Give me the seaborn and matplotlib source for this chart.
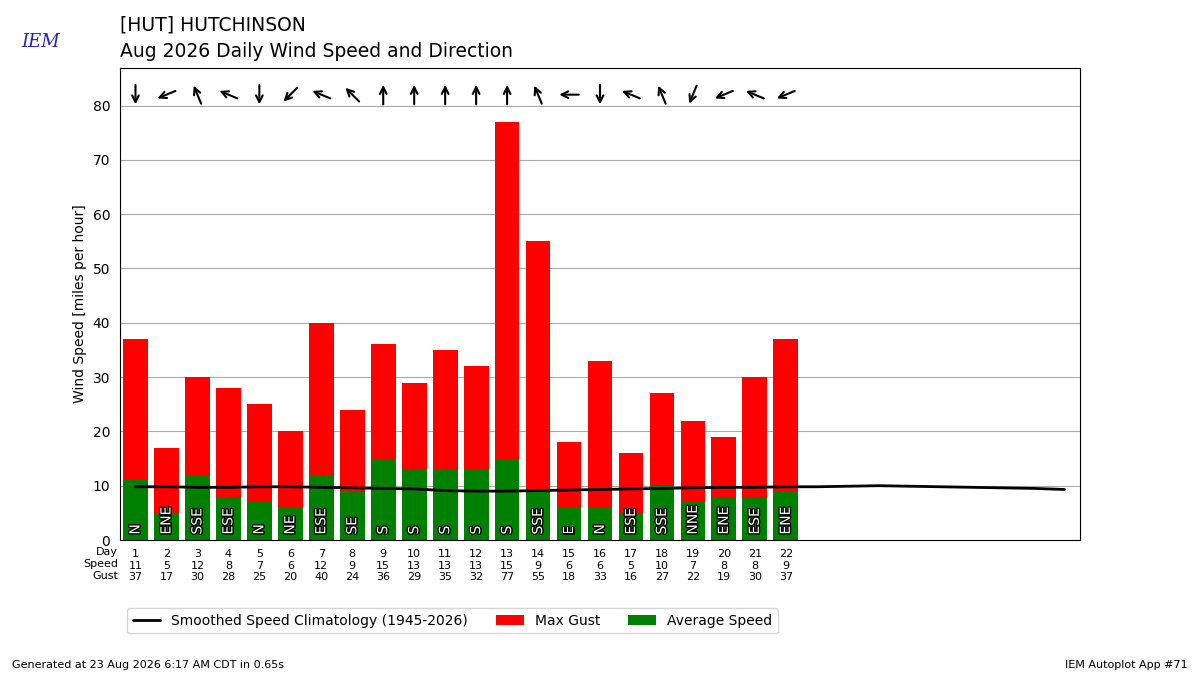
import numpy as np
import matplotlib
matplotlib.use("Agg")
import matplotlib.pyplot as plt
import matplotlib.patheffects as pe
from matplotlib.transforms import offset_copy
import seaborn as sns

days = list(range(1, 23))
speed = [11, 5, 12, 8, 7, 6, 12, 9, 15, 13, 13, 13, 15, 9, 6, 6, 5, 10, 7, 8, 8, 9]
gust = [37, 17, 30, 28, 25, 20, 40, 24, 36, 29, 35, 32, 77, 55, 18, 33, 16, 27, 22, 19, 30, 37]
dirs = ["N", "ENE", "SSE", "ESE", "N", "NE", "ESE", "SE", "S", "S", "S", "S", "S",
        "SSE", "E", "N", "ESE", "SSE", "NNE", "ENE", "ESE", "ENE"]
clim_days = list(range(1, 32))
clim = [9.8, 9.8, 9.7, 9.7, 9.8, 9.8, 9.7, 9.6, 9.5, 9.4, 9.1, 9.0, 9.0, 9.1, 9.2, 9.3,
        9.4, 9.5, 9.6, 9.7, 9.7, 9.8, 9.8, 9.9, 10.0, 9.9, 9.8, 9.7, 9.6, 9.5, 9.3]

compass = ["N", "NNE", "NE", "ENE", "E", "ESE", "SE", "SSE",
           "S", "SSW", "SW", "WSW", "W", "WNW", "NW", "NNW"]

sns.set_style("white")
plt.rcParams["font.family"] = ["DejaVu Sans"]
plt.rcParams["text.color"] = "black"
plt.rcParams["axes.labelcolor"] = "black"
plt.rcParams["xtick.color"] = "black"
plt.rcParams["ytick.color"] = "black"

fig = plt.figure(figsize=(12, 6.75), dpi=100)
ax = fig.add_axes([0.1, 0.2, 0.8, 0.7])

sns.barplot(x=days, y=gust, color="red", saturation=1, width=0.8, ax=ax,
            native_scale=True, label="Max Gust", linewidth=0)
sns.barplot(x=days, y=speed, color="green", saturation=1, width=0.8, ax=ax,
            native_scale=True, label="Average Speed", linewidth=0)
sns.lineplot(x=clim_days, y=clim, color="black", lw=2, ax=ax,
             label="Smoothed Speed Climatology (1945-2026)")

for d, s in zip(days, dirs):
    ax.text(d, 1, s, rotation=90, ha="center", va="bottom", color="white", fontsize=10,
            path_effects=[pe.withStroke(linewidth=2, foreground="black")])
    deg = compass.index(s) * 22.5
    dx = -np.sin(np.radians(deg)) * 14
    dy = -np.cos(np.radians(deg)) * 14
    head = offset_copy(ax.transData, fig=fig, x=dx / 2, y=dy / 2, units="points")
    tail = offset_copy(ax.transData, fig=fig, x=-dx / 2, y=-dy / 2, units="points")
    ax.annotate("", xy=(d, 82), xycoords=head, xytext=(d, 82), textcoords=tail,
                annotation_clip=False,
                arrowprops=dict(arrowstyle="->", lw=1.5, color="black",
                                shrinkA=0, shrinkB=0, mutation_scale=12))

ax.set_xlim(0.5, 31.5)
ax.set_ylim(0, 87)
ax.set_yticks(range(0, 81, 10))
ax.yaxis.grid(True, color="#aaaaaa")
ax.set_axisbelow(True)
for sp in ax.spines.values():
    sp.set_color("black")
ax.set_ylabel("Wind Speed [miles per hour]")
ax.set_xticks(days)
ax.set_xticklabels([f"{d}\n{s}\n{g}" for d, s, g in zip(days, speed, gust)], fontsize=8)
ax.tick_params(axis="x", length=3)
ax.tick_params(axis="y", labelsize=10)
ax.text(-0.002, -0.0155, "Day\nSpeed\nGust", transform=ax.transAxes, ha="right",
        va="top", fontsize=8, linespacing=1.2)

h, l = ax.get_legend_handles_labels()
order = [l.index("Smoothed Speed Climatology (1945-2026)"), l.index("Max Gust"),
         l.index("Average Speed")]
ax.legend([h[i] for i in order], [l[i] for i in order], ncol=3,
          loc="upper left", bbox_to_anchor=(0.0, -0.13), fontsize=10)

fig.text(0.1, 0.955, "[HUT] HUTCHINSON", fontsize=13.5)
fig.text(0.1, 0.915, "Aug 2026 Daily Wind Speed and Direction", fontsize=13.5)
fig.text(0.018, 0.93, "IEM", fontsize=13, color="#2222cc", style="italic",
         family="DejaVu Serif")
fig.text(0.01, 0.01, "Generated at 23 Aug 2026 6:17 AM CDT in 0.65s", fontsize=8)
fig.text(0.99, 0.01, "IEM Autoplot App #71", fontsize=8, ha="right")

fig.savefig("out.png", dpi=100)
